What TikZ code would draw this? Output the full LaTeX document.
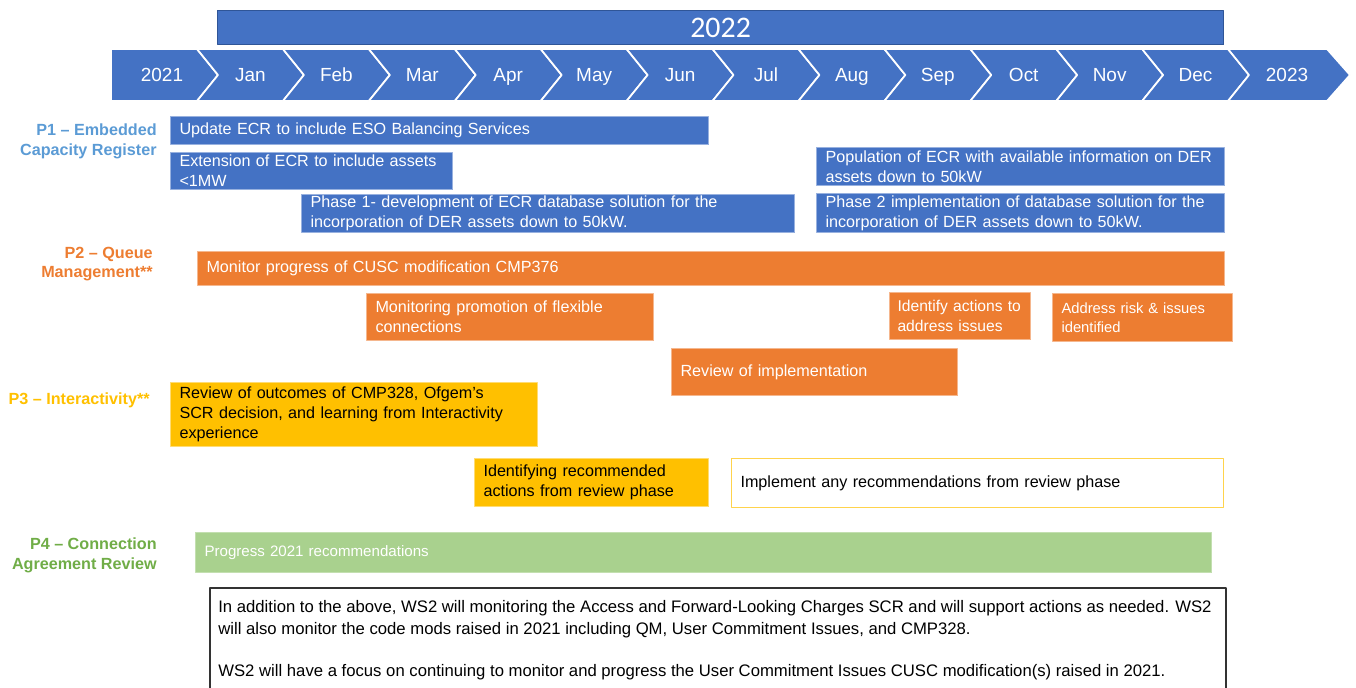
\documentclass[tikz,border=0pt]{standalone}
\usepackage{fontspec}
\setmainfont{Liberation Sans}
\newfontfamily\yearfont{Carlito}
\definecolor{ecrblue}{HTML}{4472C4}
\definecolor{ecrdark}{HTML}{2F5597}
\definecolor{lblue}{HTML}{5B9BD5}
\definecolor{qorange}{HTML}{ED7D31}
\definecolor{iyellow}{HTML}{FFC000}
\definecolor{cgreen}{HTML}{A9D18E}
\definecolor{lgreen}{HTML}{70AD47}
\tikzset{
  every node/.style={inner sep=0pt},
  month/.style={anchor=base,text=white,font=\fontsize{10.8}{13}\selectfont},
  lane/.style={anchor=east,align=right,font=\bfseries\fontsize{9.2}{11.3}\selectfont},
  task/.style={anchor=north west,align=left,inner xsep=0.18cm,line width=0.6pt,
    font=\fontsize{9.2}{11.3}\selectfont},
  bluetask/.style={task,fill=ecrblue,draw=ecrblue!55!white,text=white},
  orangetask/.style={task,fill=qorange,draw=qorange!55!white,text=white},
  yellowtask/.style={task,fill=iyellow,draw=iyellow!55!white,text=black},
  opentask/.style={task,fill=white,draw=iyellow!70!white,text=black},
  greentask/.style={task,fill=cgreen,draw=cgreen!70!white,text=white,font=\fontsize{8.6}{10.5}\selectfont}
}
% box: style, name, left, top, width, height, text (all in px)
\newcommand{\taskbox}[7]{%
  \pgfmathsetmacro{\tw}{(#5-18)*0.02}%
  \pgfmathsetmacro{\th}{#6*0.02}%
  \node[#1,text width=\tw cm,minimum height=\th cm] (#2) at (#3,#4) {#7};}
\begin{document}
\begin{tikzpicture}[x=0.02cm,y=-0.02cm,line join=round]
\useasboundingbox (0,0) rectangle (1356,687);
\clip (0,0) rectangle (1356,687);
% year bar
\node[fill=ecrblue,draw=ecrdark,line width=0.8pt,anchor=north west,
  minimum width=20.12cm,minimum height=0.68cm,text=white,
  font=\yearfont\fontsize{17}{20}\selectfont] (yr) at (217,10) {2022};
% months
\fill[ecrblue,draw=white,line width=1pt] (111,49) -- (197,49) -- (218,75) -- (197,101) -- (111,101) -- cycle;
\node[month] (y21) at (162,81) {2021};
\foreach \m [count=\k from 0] in {Jan,Feb,Mar,Apr,May,Jun,Jul,Aug,Sep,Oct,Nov,Dec}{
  \pgfmathsetmacro{\lx}{197+85.92*\k}
  \pgfmathsetmacro{\rx}{\lx+85.92}
  \fill[ecrblue,draw=white,line width=1pt] (\lx,49) -- (\rx,49) -- (\rx+21,75) -- (\rx,101) -- (\lx,101) -- (\lx+21,75) -- cycle;
  \node[month] (m\k) at ({(\lx+\rx)/2+10.5},81) {\m};
}
\fill[ecrblue,draw=white,line width=1pt] (1228,49) -- (1327,49) -- (1350,75) -- (1327,101) -- (1228,101) -- (1249,75) -- cycle;
\node[month] (y23) at (1287,81) {2023};
% lanes
\node[lane,text=lblue] (p1) at (157,141) {P1 – Embedded\\Capacity Register};
\node[lane,text=qorange] (p2) at (153,264) {P2 – Queue\\Management**};
\node[lane,text=iyellow] (p3) at (150,400) {P3 – Interactivity**};
\node[lane,text=lgreen] (p4) at (157,555) {P4 – Connection\\Agreement Review};
% P1
\taskbox{bluetask}{ecrupdate}{170}{116}{538}{28}{Update ECR to include ESO Balancing Services}
\taskbox{bluetask}{ecrext}{170}{152}{282}{37}{Extension of ECR to include assets\\<1MW}
\taskbox{bluetask}{ecrone}{301}{194}{493}{38}{Phase 1- development of ECR database solution for the\\incorporation of DER assets down to 50kW.}
\taskbox{bluetask}{ecrpop}{816}{147}{408}{38}{Population of ECR with available information on DER\\assets down to 50kW}
\taskbox{bluetask}{ecrtwo}{816}{193}{408}{39}{Phase 2 implementation of database solution for the\\incorporation of DER assets down to 50kW.}
% P2
\taskbox{orangetask}{cmp}{197}{251}{1027}{34}{Monitor progress of CUSC modification CMP376}
\taskbox{orangetask}{flex}{366}{293}{287}{47}{Monitoring promotion of flexible\\connections}
\taskbox{orangetask,inner xsep=0.16cm,font=\fontsize{8.9}{11.3}\selectfont}{ident}{889}{292}{143}{47}{Identify actions to\\address issues}
\taskbox{orangetask,font=\fontsize{8.4}{10.8}\selectfont}{risk}{1052}{293}{180}{48}{Address risk \& issues\\identified}
\taskbox{orangetask}{revimpl}{671}{348}{286}{47}{Review of implementation}
% P3
\taskbox{yellowtask}{outcomes}{170}{382}{367}{64}{Review of outcomes of CMP328, Ofgem’s\\SCR decision, and learning from Interactivity\\experience}
\taskbox{yellowtask}{recs}{474}{458}{234}{48}{Identifying recommended\\actions from review phase}
\taskbox{opentask}{impl}{731}{458}{492}{49}{Implement any recommendations from review phase}
% P4
\taskbox{greentask}{prog}{195}{532}{1016}{40}{Progress 2021 recommendations}
% note
\draw[black!80,line width=0.8pt] (210,588) rectangle (1226,720);
\node[anchor=north west,align=left,font=\fontsize{9.5}{12.4}\selectfont] (note) at (218,600)
  {In addition to the above, WS2 will monitoring the Access and Forward-Looking Charges SCR and will support actions as needed. WS2\\
   will also monitor the code mods raised in 2021 including QM, User Commitment Issues, and CMP328.\\[11.5pt]
   WS2 will have a focus on continuing to monitor and progress the User Commitment Issues CUSC modification(s) raised in 2021.};
\end{tikzpicture}
\end{document}
